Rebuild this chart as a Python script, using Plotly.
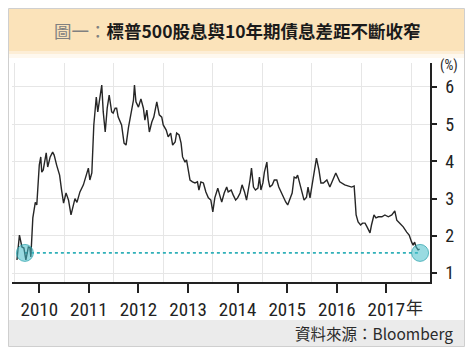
import plotly.graph_objects as go

# ---- data (decimal years, spread in %) ----
dates = [2010.05, 2010.10, 2010.15, 2010.19, 2010.23, 2010.28, 2010.31, 2010.33, 2010.37, 2010.42,
         2010.45, 2010.50, 2010.53, 2010.55, 2010.58, 2010.64, 2010.67, 2010.72, 2010.77, 2010.80,
         2010.85, 2010.91, 2010.95, 2010.99, 2011.04, 2011.09, 2011.14, 2011.18, 2011.22, 2011.26,
         2011.32, 2011.39, 2011.44, 2011.49, 2011.52, 2011.56, 2011.60, 2011.65, 2011.68, 2011.71,
         2011.76, 2011.79, 2011.83, 2011.87, 2011.91, 2011.96, 2011.99, 2012.03, 2012.06, 2012.09,
         2012.16, 2012.21, 2012.25, 2012.30, 2012.34, 2012.40, 2012.42, 2012.45, 2012.50, 2012.55,
         2012.60, 2012.63, 2012.67, 2012.72, 2012.77, 2012.81, 2012.87, 2012.92, 2012.97, 2013.00,
         2013.06, 2013.10, 2013.15, 2013.19, 2013.24, 2013.27, 2013.32, 2013.36, 2013.39, 2013.44,
         2013.47, 2013.51, 2013.54, 2013.59, 2013.64, 2013.69, 2013.72, 2013.76, 2013.81, 2013.86,
         2013.91, 2013.96, 2014.00, 2014.04, 2014.10, 2014.15, 2014.18, 2014.23, 2014.28, 2014.31,
         2014.37, 2014.41, 2014.46, 2014.50, 2014.55, 2014.59, 2014.64, 2014.68, 2014.72, 2014.75,
         2014.78, 2014.82, 2014.86, 2014.91, 2014.94, 2014.97, 2015.01, 2015.04, 2015.09, 2015.12,
         2015.15, 2015.20, 2015.24, 2015.29, 2015.33, 2015.38, 2015.42, 2015.47, 2015.51, 2015.56,
         2015.60, 2015.64, 2015.68, 2015.71, 2015.76, 2015.80, 2015.84, 2015.89, 2015.92, 2015.96,
         2016.03, 2016.06, 2016.09, 2016.14, 2016.18, 2016.23, 2016.30, 2016.36, 2016.48, 2016.56,
         2016.66, 2016.80, 2016.85, 2016.87, 2016.89, 2016.93, 2016.98, 2017.02, 2017.07, 2017.11,
         2017.17, 2017.20, 2017.25, 2017.29, 2017.34, 2017.41, 2017.47, 2017.54, 2017.61, 2017.67,
         2017.71, 2017.77, 2017.84, 2017.91, 2017.96, 2018.01, 2018.04, 2018.07, 2018.10, 2018.14,
         2018.17]
spread = [1.35, 2.02, 1.70, 1.67, 1.35, 1.70, 1.68, 1.43, 2.48, 2.90,
          2.83, 3.90, 4.12, 3.71, 3.77, 4.23, 3.85, 4.12, 4.25, 4.17,
          3.90, 3.63, 3.23, 2.88, 3.15, 2.96, 2.56, 2.77, 3.00, 2.90,
          3.18, 3.37, 3.63, 3.82, 3.50, 3.69, 4.98, 5.73, 5.33, 5.65,
          6.05, 5.33, 4.79, 5.43, 5.78, 5.33, 5.30, 5.43, 5.43, 5.20,
          4.98, 4.49, 4.44, 4.92, 5.25, 5.65, 6.05, 5.60, 5.46, 5.68,
          5.43, 5.11, 5.38, 4.79, 5.06, 5.19, 5.60, 5.25, 5.19, 4.98,
          4.84, 4.66, 4.76, 4.44, 4.52, 4.76, 4.71, 4.49, 4.12, 3.98,
          4.04, 3.71, 3.50, 3.45, 3.42, 3.45, 3.23, 3.45, 3.42, 3.18,
          3.02, 2.96, 2.64, 3.02, 3.28, 3.04, 2.91, 3.15, 3.31, 3.18,
          3.23, 3.10, 2.96, 3.02, 3.15, 3.37, 3.18, 2.96, 3.23, 3.50,
          3.82, 3.31, 3.23, 3.28, 3.58, 3.23, 3.42, 3.71, 3.98, 3.50,
          3.31, 3.37, 3.50, 3.50, 3.31, 3.15, 3.04, 2.91, 2.83, 3.02,
          3.15, 3.58, 3.55, 3.63, 3.37, 3.18, 2.96, 3.04, 3.31, 3.02,
          3.58, 3.77, 4.09, 3.77, 3.42, 3.42, 3.50, 3.31, 3.69, 3.45,
          3.37, 3.31, 3.34, 2.96, 2.56, 2.37, 2.29, 2.34, 2.34, 2.24,
          2.08, 2.29, 2.56, 2.48, 2.51, 2.51, 2.56, 2.51, 2.56, 2.67,
          2.42, 2.34, 2.24, 2.10, 2.02, 1.83, 1.75, 1.83, 1.70, 1.62,
          1.64]

level_dates = [2010.21, 2018.18]
level_value = [1.54, 1.54]

year_grid = [2010, 2011, 2012, 2013, 2014, 2015, 2016, 2017, 2018]
year_ticks = [2010.5, 2011.5, 2012.5, 2013.5, 2014.5, 2015.5, 2016.5, 2017.5]
year_labels = ["2010", "2011", "2012", "2013", "2014", "2015", "2016", "2017"]
y_ticks = [1, 2, 3, 4, 5, 6]

TICKFONT = "Liberation Sans Narrow, Roboto Condensed, Arial Narrow, Liberation Sans, sans-serif"
CJK = "Noto Sans CJK TC, Noto Sans CJK SC, sans-serif"
XR = [2009.95, 2018.38]

fig = go.Figure()

fig.add_trace(go.Scatter(
    x=level_dates, y=level_value, mode="lines",
    line=dict(color="#2FB0B8", width=1.6, dash="3px,3px"),
    hoverinfo="skip", showlegend=False))

fig.add_trace(go.Scatter(
    x=dates, y=spread, mode="lines",
    line=dict(color="#262626", width=1.4),
    showlegend=False))

fig.add_trace(go.Scatter(
    x=level_dates, y=level_value, mode="markers",
    marker=dict(size=17, color="rgba(70,190,200,0.55)",
                line=dict(color="rgba(40,160,170,0.7)", width=1)),
    hoverinfo="skip", showlegend=False))

# invisible trace carrying the labelled (mid-year) x axis
fig.add_trace(go.Scatter(
    x=level_dates, y=level_value, xaxis="x2", mode="lines",
    line=dict(width=0), opacity=0, hoverinfo="skip", showlegend=False))

# the page body has an 8px margin; figure is drawn from screen (8,8)
OFF = 8
W, H = 458, 341
L, R, T, B = 4, 36, 55, 67
pw, ph = W - L - R, H - T - B
def px(sx):
    return (sx - OFF - L) / pw
def py(sy):
    return (H - B - (sy - OFF)) / ph

shapes = [
    dict(type="rect", xref="paper", yref="paper", x0=px(8.5), x1=px(464.5), y0=py(8.5), y1=py(346.5),
         line=dict(color="#CFCFCF", width=1), fillcolor="white", layer="below"),
    dict(type="rect", xref="paper", yref="paper", x0=px(9), x1=px(464), y0=py(9), y1=py(51),
         line=dict(width=0), fillcolor="#FBE3BA", layer="below"),
    dict(type="rect", xref="paper", yref="paper", x0=px(9), x1=px(464), y0=py(51), y1=py(54),
         line=dict(width=0), fillcolor="rgba(251,227,186,0.6)", layer="below"),
    dict(type="rect", xref="paper", yref="paper", x0=px(9), x1=px(464), y0=py(54), y1=py(58),
         line=dict(width=0), fillcolor="rgba(251,227,186,0.25)", layer="below"),
    dict(type="rect", xref="paper", yref="paper", x0=px(9), x1=px(464), y0=py(320), y1=py(346),
         line=dict(width=0), fillcolor="#EBEBEB", layer="below"),
]

annotations = [
    dict(xref="paper", yref="paper", x=px(237), y=py(30), xanchor="center", yanchor="middle",
         text="<span style='color:#808080;font-weight:normal'>圖一：</span>標普500股息與10年期債息差距不斷收窄",
         showarrow=False, font=dict(family=CJK, size=17.5, color="#1a1a1a", weight="bold")),
    dict(xref="paper", yref="paper", x=px(455), y=py(333), xanchor="right", yanchor="middle",
         text="資料來源：Bloomberg", showarrow=False,
         font=dict(family=CJK, size=15.5, color="#2a2a2a")),
    dict(xref="paper", yref="paper", x=px(414), y=py(306), xanchor="center", yanchor="middle",
         text="年", showarrow=False, font=dict(family=CJK, size=17, color="#2a2a2a")),
    dict(xref="paper", yref="paper", x=px(449), y=py(65), xanchor="center", yanchor="middle",
         text="(%)", showarrow=False, font=dict(family=TICKFONT, size=14, color="#2a2a2a")),
]

fig.update_layout(
    width=W, height=H,
    margin=dict(l=L, r=R, t=T, b=B, pad=0),
    paper_bgcolor="white", plot_bgcolor="rgba(0,0,0,0)",
    shapes=shapes, annotations=annotations,
    showlegend=False,
    xaxis=dict(
        range=XR, tickmode="array", tickvals=year_grid,
        showticklabels=False, ticks="",
        showgrid=True, gridcolor="#E6E6E6", gridwidth=1, zeroline=False,
        showline=True, linecolor="#222", linewidth=1.5,
    ),
    xaxis2=dict(
        range=XR, overlaying="x", side="bottom", anchor="y",
        tickmode="array", tickvals=year_ticks, ticktext=year_labels,
        showgrid=False, zeroline=False, showline=False,
        ticks="outside", ticklen=10, tickwidth=1.5, tickcolor="#222",
        tickfont=dict(family=TICKFONT, size=19, color="#222"),
    ),
    yaxis=dict(
        range=[0.758, 6.645], side="right", tickvals=y_ticks,
        showgrid=True, gridcolor="#E6E6E6", gridwidth=1, zeroline=False,
        showline=True, linecolor="#222", linewidth=1.5,
        ticks="outside", ticklen=5, tickwidth=1.5, tickcolor="#222",
        ticklabelstandoff=5,
        tickfont=dict(family=TICKFONT, size=18, color="#222"),
    ),
)

fig.write_html("out.html")
